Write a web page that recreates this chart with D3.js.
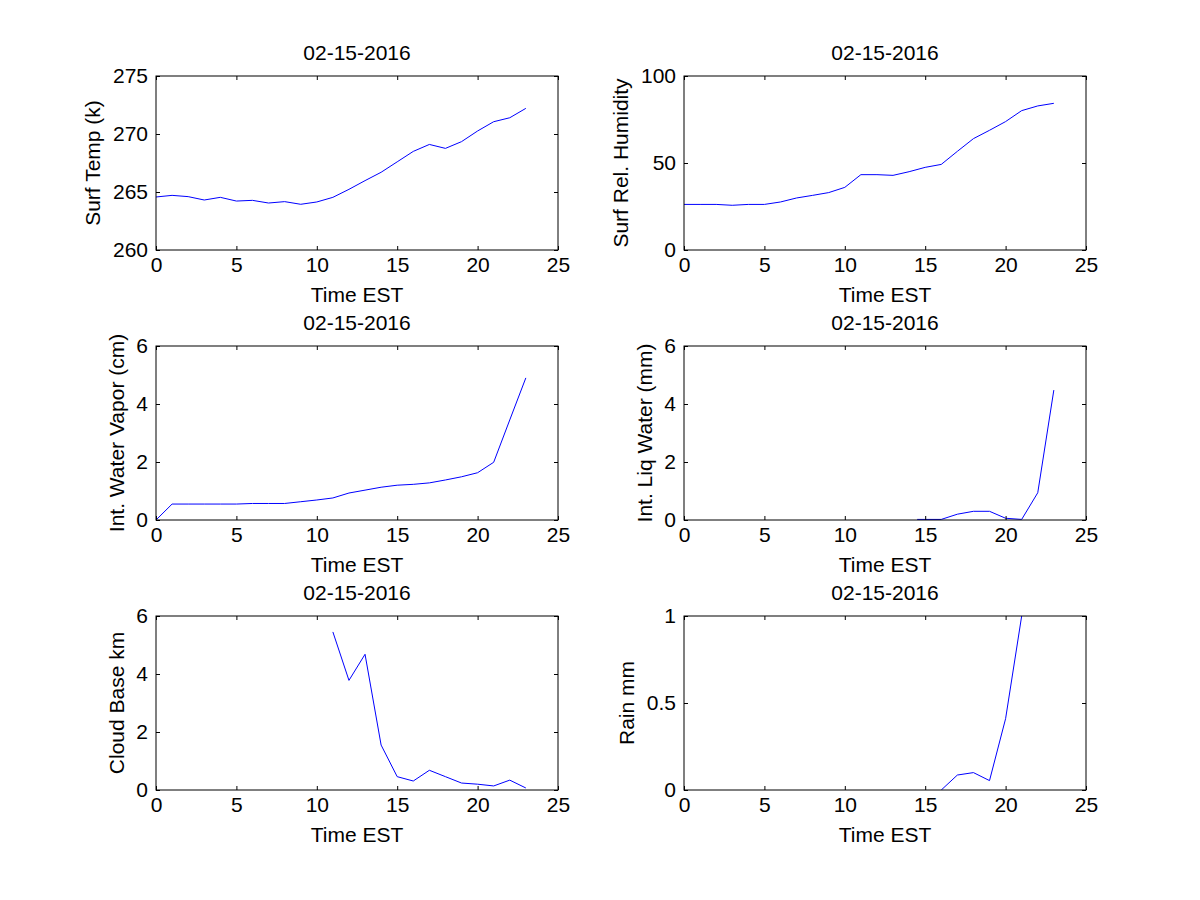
<!DOCTYPE html>
<html>
<head>
<meta charset="utf-8">
<script src="https://cdn.jsdelivr.net/npm/d3@7"></script>
<style>
  body { margin: 0; background: #fff; }
  text { font-family: "Liberation Sans", Arial, sans-serif; fill: #000; }
</style>
</head>
<body>
<svg id="chart" width="1200" height="900"></svg>
<script>
// ---- Data ----
const titleText = "02-15-2016";
const xLabelText = "Time EST";
const xTicks = [0, 5, 10, 15, 20, 25];

const hours = [0,1,2,3,4,5,6,7,8,9,10,11,12,13,14,15,16,17,18,19,20,21,22,23];

const surfTemp = [264.57,264.71,264.6,264.31,264.54,264.22,264.28,264.05,264.17,263.94,264.14,264.54,
                  265.23,265.98,266.7,267.6,268.5,269.1,268.76,269.34,270.26,271.06,271.4,272.21];

const surfRH = [26.2,26.2,26.2,25.7,26.2,26.2,27.6,29.9,31.4,33.0,36.0,43.3,
                43.3,42.9,45.0,47.5,49.2,56.7,64.0,68.8,73.8,80.1,82.8,84.3];

const intWV = [0,0.55,0.55,0.55,0.55,0.55,0.57,0.57,0.57,0.63,0.69,0.76,
               0.93,1.03,1.13,1.2,1.23,1.28,1.38,1.49,1.63,1.99,3.45,4.9];

const liqHours = [14.5,16,17,18,19,20,21,22,23];
const liqWater = [0.02,0.02,0.2,0.3,0.3,0.06,0.02,0.94,4.48];

const cloudHours = [11,12,13,14,15,16,17,18,19,20,21,22,23];
const cloudBase = [5.45,3.78,4.68,1.55,0.46,0.31,0.68,0.46,0.24,0.2,0.14,0.34,0.07];

const rainHours = [16,17,18,19,20,21];
const rain = [0,0.086,0.1,0.054,0.41,1.0];

const panels = [
  { ylabel: "Surf Temp (k)",         x: hours,      y: surfTemp,  yDomain: [260, 275], yTicks: [260,265,270,275] },
  { ylabel: "Surf Rel. Humidity",    x: hours,      y: surfRH,    yDomain: [0, 100],   yTicks: [0,50,100] },
  { ylabel: "Int. Water Vapor (cm)", x: hours,      y: intWV,     yDomain: [0, 6],     yTicks: [0,2,4,6] },
  { ylabel: "Int. Liq Water (mm)",   x: liqHours,   y: liqWater,  yDomain: [0, 6],     yTicks: [0,2,4,6] },
  { ylabel: "Cloud Base km",         x: cloudHours, y: cloudBase, yDomain: [0, 6],     yTicks: [0,2,4,6] },
  { ylabel: "Rain mm",               x: rainHours,  y: rain,      yDomain: [0, 1],     yTicks: [0,0.5,1] }
];

// ---- Layout ----
const svg = d3.select("#chart");
const colLeft = [156, 684];
const rowTop = [76, 346, 616];
const W = 402, H = 174;
const fontSize = 21;
const tickLen = 4;

panels.forEach((p, i) => {
  const col = i % 2, row = Math.floor(i / 2);
  const g = svg.append("g").attr("transform", `translate(${colLeft[col]},${rowTop[row]})`);
  const x = d3.scaleLinear().domain([0, 25]).range([0, W]);
  const y = d3.scaleLinear().domain(p.yDomain).range([H, 0]);

  const clipId = "clip" + i;
  g.append("clipPath").attr("id", clipId).append("rect").attr("width", W).attr("height", H);

  // data line
  const line = d3.line().x((d, k) => x(p.x[k])).y(d => y(d));
  g.append("path")
    .datum(p.y)
    .attr("clip-path", `url(#${clipId})`)
    .attr("fill", "none")
    .attr("stroke", "#0000ff")
    .attr("stroke-width", 1)
    .attr("d", line);

  // axes: bottom with labels, top mirrored ticks
  const xb = g.append("g").attr("transform", `translate(0,${H})`)
    .call(d3.axisBottom(x).tickValues(xTicks).tickSizeInner(-tickLen).tickSizeOuter(0).tickPadding(10).tickFormat(d3.format("d")));
  const xt = g.append("g")
    .call(d3.axisTop(x).tickValues(xTicks).tickSizeInner(-tickLen).tickSizeOuter(0).tickFormat(""));
  const fmtY = v => String(v);
  const yl = g.append("g")
    .call(d3.axisLeft(y).tickValues(p.yTicks).tickSizeInner(-tickLen).tickSizeOuter(0).tickPadding(8).tickFormat(fmtY));
  const yr = g.append("g").attr("transform", `translate(${W},0)`)
    .call(d3.axisRight(y).tickValues(p.yTicks).tickSizeInner(-tickLen).tickSizeOuter(0).tickFormat(""));

  [xb, xt, yl, yr].forEach(a => {
    a.select(".domain").remove();
    a.selectAll("line").attr("stroke", "#000").attr("stroke-width", 1);
    a.selectAll("text").style("font-size", fontSize + "px").style("font-family", '"Liberation Sans", Arial, sans-serif').attr("fill", "#000");
  });
  xb.selectAll("text").attr("dy", "0.71em").attr("y", 7);

  // box
  g.append("rect").attr("width", W).attr("height", H)
    .attr("fill", "none").attr("stroke", "#000").attr("stroke-width", 1);

  // title
  g.append("text").attr("x", W / 2).attr("y", -16)
    .attr("text-anchor", "middle").style("font-size", fontSize + "px").text(titleText);

  // x label
  g.append("text").attr("x", W / 2).attr("y", H + 52)
    .attr("text-anchor", "middle").style("font-size", fontSize + "px").text(xLabelText);

  // y label, positioned by tick label width
  let maxW = 0;
  yl.selectAll("text").each(function() { maxW = Math.max(maxW, this.getComputedTextLength()); });
  const lx = -8 - maxW - 20;
  g.append("text")
    .attr("transform", `translate(${lx},${H / 2}) rotate(-90)`)
    .attr("text-anchor", "middle")
    .attr("dy", "0.35em")
    .style("font-size", fontSize + "px")
    .text(p.ylabel);
});
</script>
</body>
</html>
